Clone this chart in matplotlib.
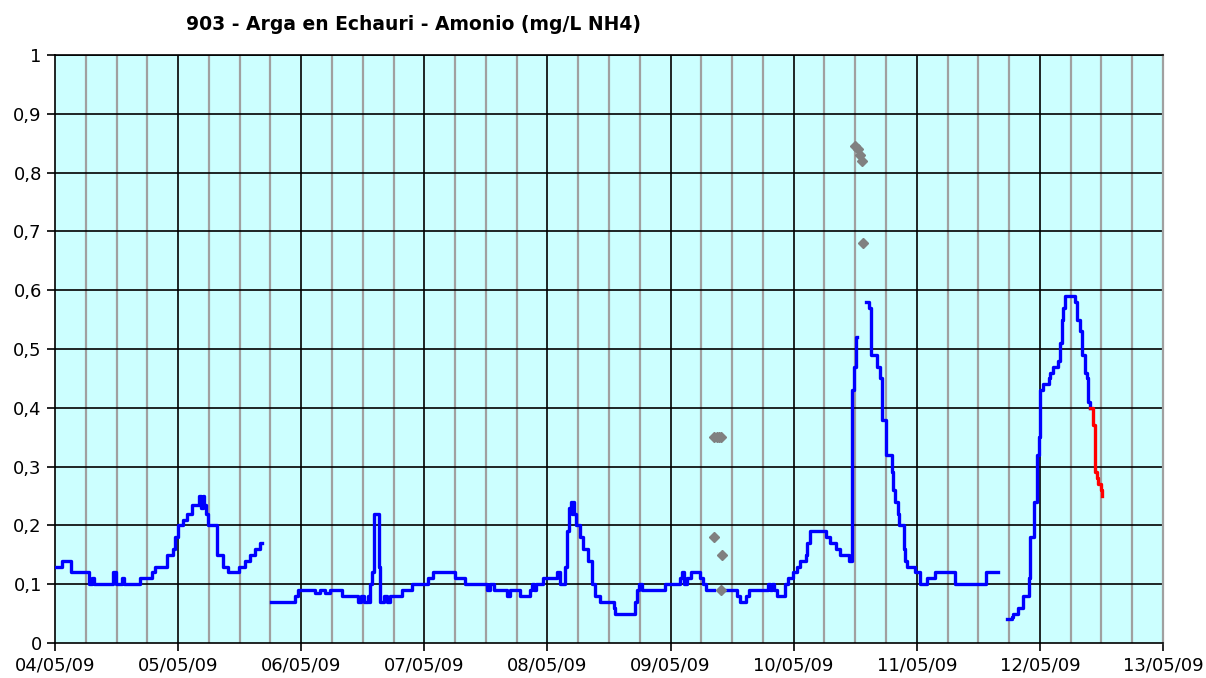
import numpy as np
import matplotlib
matplotlib.use("Agg")
from matplotlib import pyplot as plt

# hours since 04/05/09 00:00, values in mg/L NH4 (step series)
seg1_h = [0, 1.4, 3.1, 6.7, 7.2, 7.6, 11.3, 11.9, 13.1, 13.5, 16.6, 18.9, 19.5, 21.8,
          23.1, 23.4, 24.0, 25.0, 25.7, 26.7, 28.1, 28.5, 28.9, 29.1, 29.4, 29.9, 31.5,
          32.8, 33.8, 35.9, 37.0, 38.0, 39.0, 40.0, 40.4]
seg1_v = [0.13, 0.14, 0.12, 0.10, 0.11, 0.10, 0.12, 0.10, 0.11, 0.10, 0.11, 0.12, 0.13, 0.15,
          0.16, 0.18, 0.20, 0.21, 0.22, 0.235, 0.25, 0.23, 0.25, 0.235, 0.22, 0.20, 0.15,
          0.13, 0.12, 0.13, 0.14, 0.15, 0.16, 0.17, 0.17]

seg2_h = [42.1, 46.8, 47.4, 50.7, 51.7, 52.6, 53.6, 55.9, 59.1, 59.7, 60.2, 61.0, 61.2, 61.4,
          61.8, 62.1, 63.2, 63.4, 64.2, 64.7, 65.3, 67.6, 69.5, 72.7, 73.7, 78.0, 79.9, 84.2,
          84.8, 85.6, 88.1, 88.7, 90.7, 92.6, 93.0, 93.4, 93.8, 95.2, 97.8, 98.5, 99.4, 99.8,
          100.2, 100.6, 100.8, 101.0, 101.2, 101.6, 102.4, 102.9, 104.0, 104.6, 105.3, 106.3,
          108.9, 109.2, 113.1, 113.5, 113.9, 114.4, 118.9, 121.9, 122.3, 122.6, 123.3, 124.0,
          125.8, 126.4, 126.9, 128.4]
seg2_v = [0.07, 0.08, 0.09, 0.085, 0.09, 0.085, 0.09, 0.08, 0.07, 0.08, 0.07, 0.08, 0.07, 0.10,
          0.12, 0.22, 0.13, 0.07, 0.08, 0.07, 0.08, 0.09, 0.10, 0.11, 0.12, 0.11, 0.10, 0.09,
          0.10, 0.09, 0.08, 0.09, 0.08, 0.09, 0.10, 0.09, 0.10, 0.11, 0.12, 0.10, 0.13, 0.19,
          0.23, 0.24, 0.22, 0.24, 0.22, 0.20, 0.18, 0.16, 0.14, 0.10, 0.08, 0.07,
          0.06, 0.05, 0.07, 0.09, 0.10, 0.09, 0.10, 0.11, 0.12, 0.10, 0.11, 0.12,
          0.11, 0.10, 0.09, 0.09]

seg3_h = [130.6, 132.9, 133.6, 134.7, 135.3, 139.0, 139.4, 139.8, 140.2, 140.7, 142.3, 142.9,
          143.9, 144.7, 145.3, 146.4, 146.6, 147.2, 150.4, 151.1, 152.3, 153.0, 154.7, 155.3,
          155.8, 156.1, 156.4]
seg3_v = [0.09, 0.08, 0.07, 0.08, 0.09, 0.10, 0.09, 0.10, 0.09, 0.08, 0.10, 0.11,
          0.12, 0.13, 0.14, 0.15, 0.17, 0.19, 0.18, 0.17, 0.16, 0.15, 0.14, 0.43,
          0.47, 0.52, 0.52]

seg4_h = [158.1, 158.7, 159.0, 160.2, 160.9, 161.2, 162.0, 163.1, 163.4, 163.8, 164.4, 164.6,
          165.5, 165.8, 166.1, 167.7, 168.7, 170.0, 171.6, 175.5, 181.5, 183.9]
seg4_v = [0.58, 0.57, 0.49, 0.47, 0.45, 0.38, 0.32, 0.29, 0.26, 0.24, 0.22, 0.20,
          0.16, 0.14, 0.13, 0.12, 0.10, 0.11, 0.12, 0.10, 0.12, 0.12]

seg5_h = [185.6, 186.5, 186.8, 187.8, 188.7, 189.8, 190.1, 190.9, 191.4, 191.8, 192.1, 192.7,
          193.7, 194.0, 194.6, 195.6, 195.9, 196.3, 196.6, 196.9, 198.9, 199.2, 199.8, 200.2,
          200.8, 201.2, 201.3, 201.8]
seg5_v = [0.04, 0.045, 0.05, 0.06, 0.08, 0.11, 0.18, 0.24, 0.32, 0.35, 0.43, 0.44,
          0.45, 0.46, 0.47, 0.48, 0.51, 0.55, 0.57, 0.59, 0.58, 0.55, 0.53, 0.49,
          0.46, 0.45, 0.41, 0.40]

red_h = [201.8, 202.1, 202.4, 202.8, 203.1, 203.4, 203.9, 204.1, 204.2]
red_v = [0.40, 0.40, 0.37, 0.29, 0.28, 0.27, 0.26, 0.25, 0.25]

pts_h = [128.5, 129.0, 129.4, 129.8, 128.4, 130.0, 129.9, 156.0, 156.5, 156.9, 157.3, 157.6]
pts_v = [0.35, 0.35, 0.35, 0.35, 0.18, 0.15, 0.09, 0.845, 0.84, 0.83, 0.82, 0.68]

day_labels = ["04/05/09", "05/05/09", "06/05/09", "07/05/09", "08/05/09",
              "09/05/09", "10/05/09", "11/05/09", "12/05/09", "13/05/09"]

fig = plt.figure(figsize=(12.06, 6.78), dpi=100)
ax = fig.add_axes([55 / 1206, 35 / 678, 1108 / 1206, 588 / 678])
ax.set_facecolor("#CCFFFF")

ax.set_xlim(0, 216)
ax.set_ylim(0, 1)

# grid
for h in np.arange(6, 216, 6):
    if h % 24 == 0:
        ax.axvline(h, color="black", lw=1.2, zorder=1)
    else:
        ax.axvline(h, color="#A0A0A0", lw=1.6, zorder=1)
for y in np.arange(0.1, 1.01, 0.1):
    ax.axhline(y, color="black", lw=1.2, zorder=1)

for hh, vv in [(seg1_h, seg1_v), (seg2_h, seg2_v), (seg3_h, seg3_v),
               (seg4_h, seg4_v), (seg5_h, seg5_v)]:
    ax.plot(hh, vv, drawstyle="steps-post", color="#0000FF", lw=2.4, zorder=3)
ax.plot(red_h, red_v, drawstyle="steps-post", color="#FF0000", lw=2.4, zorder=3)
ax.plot(pts_h, pts_v, linestyle="none", marker="D", color="#808080", ms=5, zorder=4)

ax.set_xticks(np.arange(0, 217, 24))
ax.set_xticklabels(day_labels)
ax.set_yticks(np.arange(0, 1.01, 0.1))
ax.set_yticklabels(["0"] + ["0,%d" % i for i in range(1, 10)] + ["1"])
ax.tick_params(axis="both", direction="out", length=6, width=1.2, labelsize=13, colors="black")
ax.tick_params(axis="x", pad=4)

ax.spines["right"].set_color("#A0A0A0")
ax.spines["right"].set_linewidth(1.6)
ax.spines["top"].set_linewidth(1.2)
ax.spines["left"].set_linewidth(1.2)
ax.spines["bottom"].set_linewidth(1.2)

fig.text(414 / 1206, 1 - 25 / 678, "903 - Arga en Echauri - Amonio (mg/L NH4)",
         ha="center", va="center", fontsize=13.5, fontweight="bold")

fig.savefig("out.png", dpi=100, facecolor="white")
